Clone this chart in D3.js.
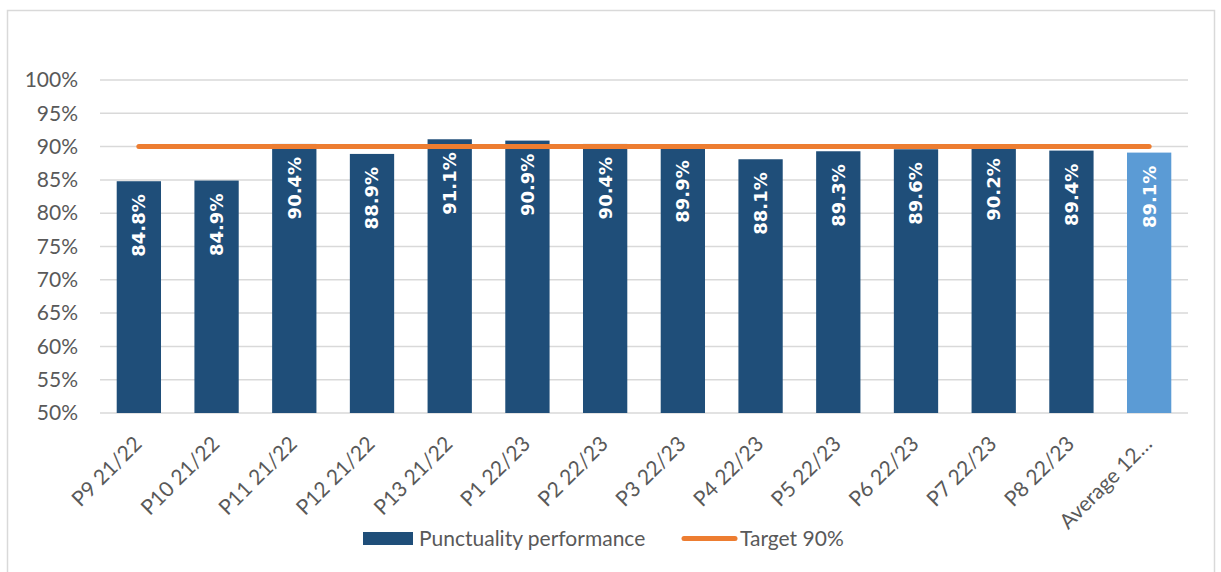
<!DOCTYPE html>
<html>
<head>
<meta charset="utf-8">
<script src="https://cdn.jsdelivr.net/npm/d3@7"></script>
<style>
  body { margin: 0; background: #fff; }
  svg { display: block; }
</style>
</head>
<body>
<div id="chart"></div>
<script>
// chart data
var CATEGORIES = ["P9 21/22", "P10 21/22", "P11 21/22", "P12 21/22", "P13 21/22",
                  "P1 22/23", "P2 22/23", "P3 22/23", "P4 22/23", "P5 22/23",
                  "P6 22/23", "P7 22/23", "P8 22/23", "Average 12\u2026"];
var PUNCTUALITY = [84.8, 84.9, 90.4, 88.9, 91.1, 90.9, 90.4, 89.9, 88.1, 89.3, 89.6, 90.2, 89.4, 89.1];
var TARGET = [90, 90, 90, 90, 90, 90, 90, 90, 90, 90, 90, 90, 90, 90];
var Y_TICKS = [50, 55, 60, 65, 70, 75, 80, 85, 90, 95, 100];
var LEGEND_LABELS = ["Punctuality performance", "Target 90%"];

var WIDTH = 1221, HEIGHT = 572;
var margin = {left: 100, right: 33, top: 80, bottom: 159};
var DARK = "#1f4e79", LIGHT = "#5b9bd5", ORANGE = "#ed7d31";
var FONT = "Lato, 'Open Sans', sans-serif";

var svg = d3.select("#chart").append("svg")
    .attr("width", WIDTH)
    .attr("height", HEIGHT);

// outer chart border
svg.append("rect")
    .attr("x", 7.5).attr("y", 10.5)
    .attr("width", 1207).attr("height", 570)
    .attr("fill", "none")
    .attr("stroke", "#d9d9d9")
    .attr("stroke-width", 1.5);

var x = d3.scaleBand()
    .domain(CATEGORIES)
    .range([margin.left, WIDTH - margin.right])
    .paddingInner(0.43)
    .paddingOuter(0.215);

var y = d3.scaleLinear()
    .domain([50, 100])
    .range([HEIGHT - margin.bottom, margin.top]);

// gridlines
svg.append("g")
    .selectAll("line")
    .data(Y_TICKS)
    .join("line")
    .attr("x1", margin.left)
    .attr("x2", WIDTH - margin.right)
    .attr("y1", function(d) { return y(d); })
    .attr("y2", function(d) { return y(d); })
    .attr("stroke", "#d9d9d9")
    .attr("stroke-width", 1.5);

// y axis labels
var yAxis = svg.append("g")
    .attr("transform", "translate(" + margin.left + ",0)")
    .call(d3.axisLeft(y).tickValues(Y_TICKS).tickSize(0).tickPadding(22)
        .tickFormat(function(d) { return d + "%"; }));
yAxis.select(".domain").remove();
yAxis.selectAll("text")
    .attr("font-family", FONT)
    .attr("font-size", 21)
    .attr("fill", "#595959");

// bars
svg.append("g")
    .selectAll("rect")
    .data(PUNCTUALITY)
    .join("rect")
    .attr("x", function(d, i) { return x(CATEGORIES[i]); })
    .attr("y", function(d) { return y(d); })
    .attr("width", x.bandwidth())
    .attr("height", function(d) { return y(50) - y(d); })
    .attr("fill", function(d, i) { return i == CATEGORIES.length - 1 ? LIGHT : DARK; });

// bar labels, rotated inside the top of each bar
svg.append("g")
    .selectAll("text")
    .data(PUNCTUALITY)
    .join("text")
    .attr("transform", function(d, i) {
        var cx = x(CATEGORIES[i]) + x.bandwidth() / 2;
        return "translate(" + cx + "," + (y(d) + 13) + ") rotate(-90)";
    })
    .attr("text-anchor", "end")
    .attr("dy", "0.36em")
    .attr("font-family", "'DejaVu Sans', sans-serif")
    .attr("font-weight", "bold")
    .attr("font-size", 18)
    .attr("fill", "#fff")
    .text(function(d) { return d.toFixed(1) + "%"; });

// target line
var line = d3.line()
    .x(function(d, i) { return x(CATEGORIES[i]) + x.bandwidth() / 2; })
    .y(function(d) { return y(d); });
svg.append("path")
    .datum(TARGET)
    .attr("d", line)
    .attr("fill", "none")
    .attr("stroke", ORANGE)
    .attr("stroke-width", 5)
    .attr("stroke-linecap", "round");

// x axis labels
svg.append("g")
    .selectAll("text")
    .data(CATEGORIES)
    .join("text")
    .attr("transform", function(d) {
        var cx = x(d) + x.bandwidth() / 2 - 1;
        return "translate(" + cx + "," + (y(50) + 27) + ") rotate(-45)";
    })
    .attr("text-anchor", "end")
    .attr("dy", "0.35em")
    .attr("font-family", FONT)
    .attr("font-size", 21)
    .attr("fill", "#595959")
    .text(function(d) { return d; });

// legend
var legend = svg.append("g");
legend.append("rect")
    .attr("x", 363).attr("y", 532)
    .attr("width", 50).attr("height", 13)
    .attr("fill", DARK);
legend.append("text")
    .attr("x", 419).attr("y", 539)
    .attr("dy", "0.35em")
    .attr("font-family", FONT)
    .attr("font-size", 21)
    .attr("fill", "#595959")
    .text(LEGEND_LABELS[0]);
legend.append("line")
    .attr("x1", 684).attr("x2", 735)
    .attr("y1", 538.5).attr("y2", 538.5)
    .attr("stroke", ORANGE)
    .attr("stroke-width", 5)
    .attr("stroke-linecap", "round");
legend.append("text")
    .attr("x", 740).attr("y", 539)
    .attr("dy", "0.35em")
    .attr("font-family", FONT)
    .attr("font-size", 21)
    .attr("fill", "#595959")
    .text(LEGEND_LABELS[1]);
</script>
</body>
</html>
